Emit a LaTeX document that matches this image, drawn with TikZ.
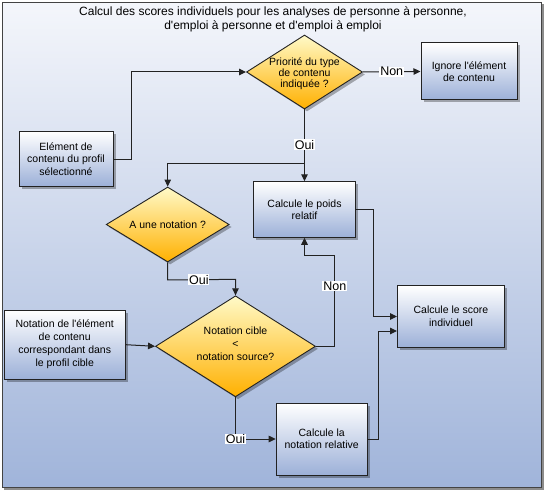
\documentclass[tikz,border=0pt]{standalone}
\usepackage{fontspec}
\setmainfont{Liberation Sans}[Ligatures=TeXOff]
\usetikzlibrary{arrows.meta,shapes.geometric,shadows,calc}
\definecolor{bgtop}{RGB}{244,246,251}
\definecolor{bgbot}{RGB}{160,180,218}
\definecolor{boxbot}{RGB}{156,176,216}
\definecolor{dtop}{RGB}{255,250,200}
\definecolor{dbot}{RGB}{255,176,0}
\definecolor{ink}{RGB}{34,34,34}
\begin{document}
\begin{tikzpicture}[x=1pt,y=-1pt,
  every node/.style={font=\fontsize{10.5}{12.3}\selectfont},
  shad/.style={drop shadow={shadow xshift=2.5pt,shadow yshift=-2.5pt,opacity=0.3,fill=black}},
  procbox/.style={draw=ink,line width=1pt,rectangle,top color=white,bottom color=boxbot,align=center,inner sep=0pt,shad},
  decision/.style={draw=ink,line width=0.9pt,diamond,top color=dtop,bottom color=dbot,inner sep=0pt,shad},
  dtext/.style={align=center,inner sep=0pt},
  lbl/.style={fill=white,inner sep=0.8pt,font=\fontsize{12.5}{14}\selectfont},
  arr/.style={draw=ink,line width=1pt,-{Triangle[length=7pt,width=6.5pt]}}]

\useasboundingbox (0,0) rectangle (546,492);
\fill[black!45] (4,4) rectangle (543.5,489.5);
\draw[draw=ink!85,line width=1.3pt,top color=bgtop,bottom color=bgbot] (2.5,2.5) rectangle (541.5,487.5);

\node[font=\fontsize{12}{14.5}\selectfont,align=center] (title) at (273,19.3)
  {Calcul des scores individuels pour les analyses de personne à personne,\\d'emploi à personne et d'emploi à emploi};

\node[decision,minimum width=116pt,minimum height=74pt] (d1) at (304.5,72) {};
\node[dtext,font=\fontsize{10.5}{10.8}\selectfont] (d1t) at (304.5,74) {Priorité du type\\de contenu\\indiquée ?};
\node[procbox,minimum width=96pt,minimum height=57pt] (ignore) at (469,71.5) {Ignore l'élément\\de contenu};
\node[procbox,minimum width=94pt,minimum height=54.5pt] (elem) at (66,159) {Elément de\\contenu du profil\\sélectionné};
\node[procbox,minimum width=102pt,minimum height=55.5pt] (poids) at (304.5,209.5) {Calcule le poids\\relatif};
\node[decision,minimum width=123pt,minimum height=75pt] (d2) at (167.7,224.5) {};
\node[dtext] (d2t) at (167.7,224.5) {A une notation ?};
\node[decision,minimum width=160pt,minimum height=101pt] (d3) at (235.5,346.3) {};
\node[dtext,font=\fontsize{10.5}{12.8}\selectfont] (d3t) at (235.5,343.5) {Notation cible\\<\\notation source?};
\node[procbox,minimum width=121pt,minimum height=69pt,font=\fontsize{10.5}{13}\selectfont] (notation) at (64.7,344.7) {Notation de l'élément\\de contenu\\correspondant dans\\le profil cible};
\node[procbox,minimum width=107pt,minimum height=61.5pt,font=\fontsize{10.5}{13.3}\selectfont] (score) at (451,316.5) {Calcule le score\\individuel};
\node[procbox,minimum width=91pt,minimum height=72pt] (rel) at (321.7,439) {Calcule la\\notation relative};

\coordinate (br) at (304.5,163);

\draw[arr] (elem.east) -- ++(17.7,0) |- (d1.west);
\draw[arr] (d1.east) -- node[lbl]{Non} (ignore.west);
\draw[arr] (d1.south) -- node[lbl,pos=0.49]{Oui} (poids.north);
\draw[arr] (br) -| (d2.north);
\draw[arr] (d2.south) -- ++(0,17.5) -- node[lbl,pos=0.46]{Oui} ($(d3.north)+(0,-16)$) -- (d3.north);
\draw[arr] (notation.east) -- (d3.west);
\draw[arr] (d3.east) -- ++(18.8,0) -- node[lbl,pos=0.66]{Non} ++(0,-91.3) -| (poids.south);
\draw[arr] (poids.east) -- ++(17.3,0) |- (score.west);
\draw[arr] (rel.east) -- ++(11,0) |- ($(score.west)+(0,14.5)$);
\draw[arr] (d3.south) |- node[lbl,pos=0.5]{Oui} (rel.west);
\end{tikzpicture}
\end{document}
